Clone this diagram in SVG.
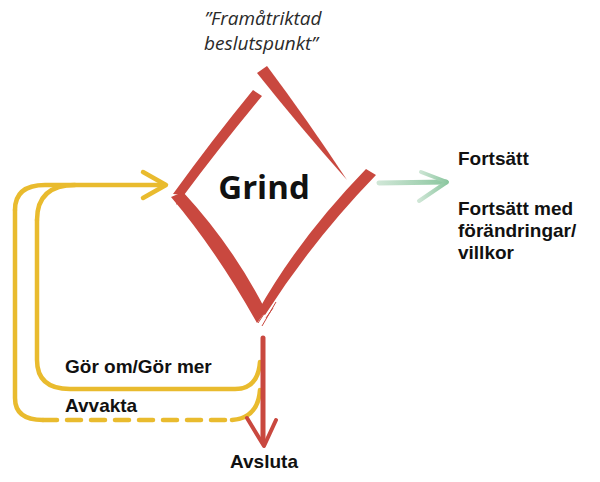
<svg xmlns="http://www.w3.org/2000/svg" width="600" height="482" viewBox="0 0 600 482">
<defs>
<style>
.lbl{font-family:"Liberation Sans",Arial,sans-serif;font-weight:700;font-size:19px;fill:#111}
.note{font-family:"Open Sans","DejaVu Sans",sans-serif;font-style:italic;font-weight:400;font-size:19px;fill:#2a2a2a}
.brush{fill:#c9483f}
.yl{fill:none;stroke:#e9bb2e;stroke-width:4.5;stroke-linecap:round;stroke-linejoin:round}
</style>
<linearGradient id="gr" x1="0" y1="0" x2="1" y2="0">
<stop offset="0" stop-color="#cfe6d6"/>
<stop offset="1" stop-color="#8cc7a0"/>
</linearGradient>
</defs>
<rect width="600" height="482" fill="#fff"/>
<text class="note" x="263" y="25" text-anchor="middle">”Framåtriktad</text>
<text class="note" x="261" y="50" text-anchor="middle">beslutspunkt”</text>
<g id="connectors">
<path class="yl" d="M15,210 Q15,185 45,185 L165,185"/>
<path class="yl" d="M37,220 Q37,185 75,185"/>
<path class="yl" d="M143,172 L166,185 L143,198"/>
<path class="yl" d="M37,220 L37,360 Q37,389 70,389 L235,389 Q258,389 260,362"/>
<path class="yl" d="M15,210 L15,398 Q15,420 43,420"/>
<path class="yl" d="M43,420 L230,420" stroke-dasharray="14 10"/>
<path class="yl" d="M232,420 Q258,418 260,390"/>
<path d="M263,338 L263,442" fill="none" stroke="#c9483f" stroke-width="5" stroke-linecap="round"/>
<path d="M247,418 L264,446 L276,420" fill="none" stroke="#c9483f" stroke-width="4" stroke-linecap="round" stroke-linejoin="round"/>
<path d="M379,183 L446,182" fill="none" stroke="url(#gr)" stroke-width="5" stroke-linecap="round"/>
<path d="M421,172 L447,182 L419,201" fill="none" stroke="url(#gr)" stroke-width="4" stroke-linecap="round" stroke-linejoin="round"/>
</g>
<g id="grind">
<path class="brush" d="M257,73 L267,66 Q306,118 347,180 Q300,127 257,73 Z"/>
<path class="brush" d="M253,90 L262,96 Q219,148 184,195 L173,194 Q212,140 253,90 Z"/>
<path class="brush" d="M171,197 L183,192 Q233,246 266,311 L257,323 Q216,250 171,197 Z"/>
<path class="brush" d="M366,169 L376,175 Q313,240 265,315 L258,311 Q299,238 366,169 Z"/>
<path d="M258,323 L270,305 M262,326 L276,302 M266,318 L273,308" stroke="#c9483f" stroke-width="1" fill="none"/>
<path d="M174,200 L182,199 M176,204 L183,202" stroke="#c9483f" stroke-width="1" fill="none"/>
<text x="264" y="199" text-anchor="middle" style="font-family:'Open Sans','DejaVu Sans',sans-serif;font-weight:700;font-size:33px;fill:#111">Grind</text>
</g>
<g id="gor-om"><text class="lbl" x="65" y="373">Gör om/Gör mer</text></g>
<g id="avvakta"><text class="lbl" x="65" y="412">Avvakta</text></g>
<g id="avsluta"><text class="lbl" x="264" y="468" text-anchor="middle">Avsluta</text></g>
<g id="fortsatt"><text class="lbl" x="458" y="165">Fortsätt</text></g>
<g id="fortsatt-med"><text class="lbl" x="458" y="215">Fortsätt med</text><text class="lbl" x="458" y="237">förändringar/</text><text class="lbl" x="458" y="259">villkor</text></g>
</svg>
